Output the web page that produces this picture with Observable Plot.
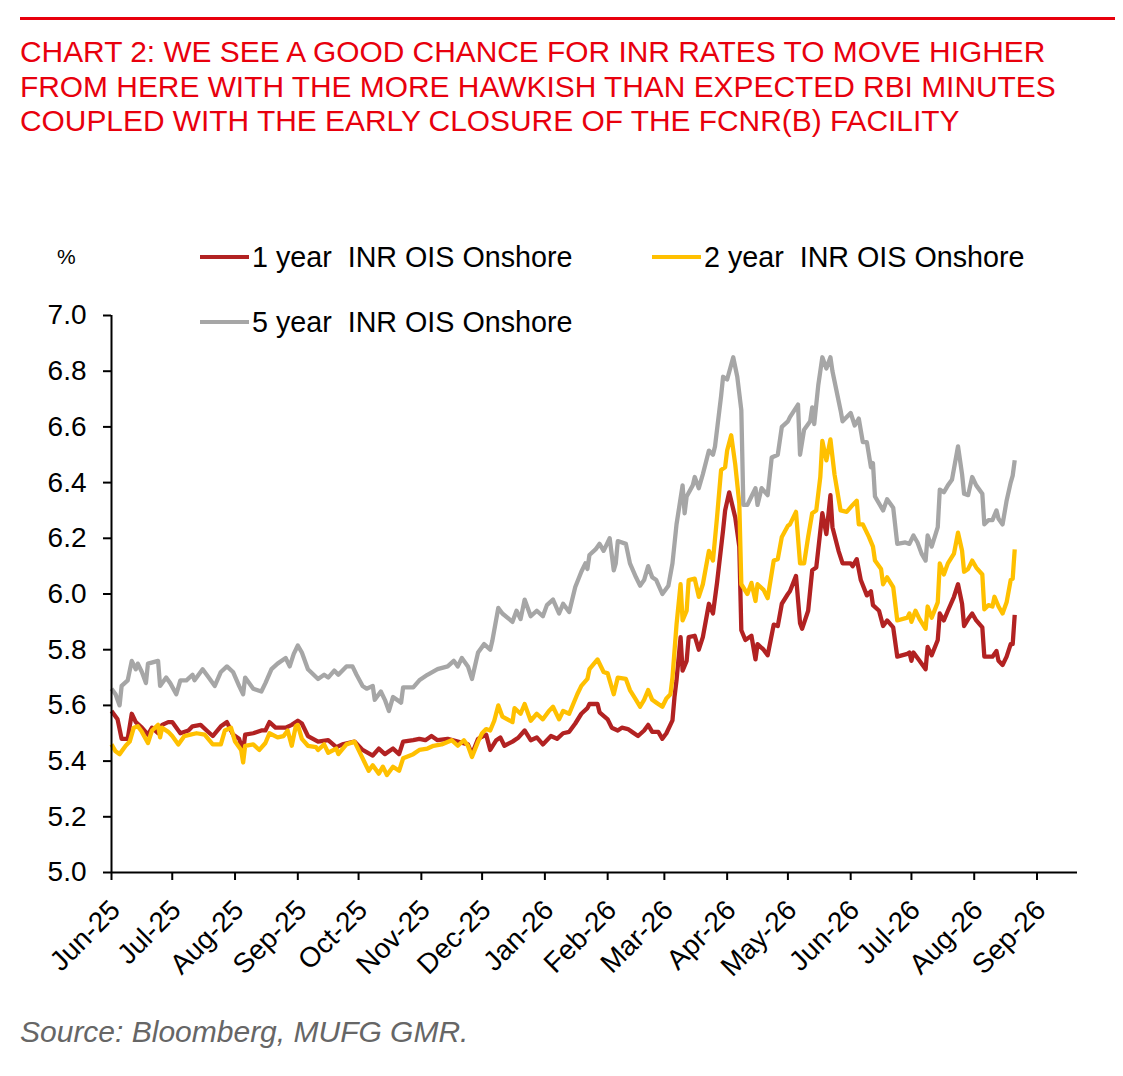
<!DOCTYPE html>
<html>
<head>
<meta charset="utf-8">
<script src="https://cdn.jsdelivr.net/npm/d3@7"></script>
<script src="https://cdn.jsdelivr.net/npm/@observablehq/plot@0.6"></script>
<style>
  html, body { margin: 0; padding: 0; background: #fff; }
  body { width: 1123px; height: 1076px; position: relative; overflow: hidden;
         font-family: "Liberation Sans", Arial, sans-serif; }
  .rule { position: absolute; left: 20px; top: 17px; width: 1095px; height: 3px; background: #e8000d; }
  .title { position: absolute; left: 20px; top: 35px; margin: 0; color: #e8000d;
           font-size: 29.9px; line-height: 34.5px; font-weight: normal; white-space: nowrap; }
  .unit { position: absolute; left: 57px; top: 243px; font-size: 21px; line-height: 28px; color: #000; }
  .leg { position: absolute; font-size: 28.7px; line-height: 30px; color: #000; white-space: pre; display: flex; align-items: center; }
  .sw { display: inline-block; width: 49px; height: 4px; margin-right: 3px; }
  #chart { position: absolute; left: 0; top: 290px; }
  .source { position: absolute; left: 20px; top: 1015px; font-size: 30px; line-height: 34px;
            font-style: italic; color: #666; white-space: nowrap; }
</style>
</head>
<body>
<div class="rule"></div>
<h1 class="title">CHART 2: WE SEE A GOOD CHANCE FOR INR RATES TO MOVE HIGHER<br>FROM HERE WITH THE MORE HAWKISH THAN EXPECTED RBI MINUTES<br>COUPLED WITH THE EARLY CLOSURE OF THE FCNR(B) FACILITY</h1>
<div class="unit">%</div>
<div id="legend"></div>
<div id="chart"></div>
<div class="source">Source: Bloomberg, MUFG GMR.</div>
<script>
// ---------- data ----------
const seriesNames = ["1 year  INR OIS Onshore", "2 year  INR OIS Onshore", "5 year  INR OIS Onshore"];
const seriesColors = ["#b22222", "#ffc000", "#a6a6a6"];

const monthTicks = ["2025-06-01","2025-07-01","2025-08-01","2025-09-01","2025-10-01","2025-11-01","2025-12-01",
  "2026-01-01","2026-02-01","2026-03-01","2026-04-01","2026-05-01","2026-06-01","2026-07-01","2026-08-01","2026-09-01"];
const yTicks = [5.0, 5.2, 5.4, 5.6, 5.8, 6.0, 6.2, 6.4, 6.6, 6.8, 7.0];
const xDomain = ["2025-06-01", "2026-09-21"];
const yDomain = [5.0, 7.0];

// 1 year INR OIS Onshore
const dates1y = [
  "2025-06-01","2025-06-03","2025-06-04","2025-06-06","2025-06-09","2025-06-11","2025-06-13","2025-06-16","2025-06-19","2025-06-21",
  "2025-06-24","2025-06-26","2025-06-29","2025-07-01","2025-07-05","2025-07-09","2025-07-11","2025-07-15","2025-07-18","2025-07-21",
  "2025-07-25","2025-07-28","2025-07-31","2025-08-03","2025-08-05","2025-08-06","2025-08-10","2025-08-14","2025-08-16","2025-08-18",
  "2025-08-21","2025-08-26","2025-08-29","2025-09-01","2025-09-03","2025-09-06","2025-09-11","2025-09-16","2025-09-20","2025-09-23",
  "2025-09-29","2025-10-03","2025-10-08","2025-10-11","2025-10-14","2025-10-18","2025-10-21","2025-10-23","2025-10-28","2025-10-31",
  "2025-11-03","2025-11-06","2025-11-09","2025-11-14","2025-11-19","2025-11-24","2025-11-26","2025-11-29","2025-12-03","2025-12-05",
  "2025-12-08","2025-12-10","2025-12-12","2025-12-16","2025-12-19","2025-12-22","2025-12-25","2025-12-28","2025-12-31","2026-01-04",
  "2026-01-07","2026-01-10","2026-01-13","2026-01-16","2026-01-19","2026-01-22","2026-01-23","2026-01-27","2026-01-28","2026-02-01",
  "2026-02-03","2026-02-06","2026-02-08","2026-02-11","2026-02-13","2026-02-16","2026-02-19","2026-02-21","2026-02-23","2026-02-26",
  "2026-02-28","2026-03-02","2026-03-05","2026-03-06","2026-03-07","2026-03-09","2026-03-10","2026-03-12","2026-03-13","2026-03-16",
  "2026-03-18","2026-03-20","2026-03-23","2026-03-25","2026-03-27","2026-03-30","2026-03-31","2026-04-02","2026-04-05","2026-04-07",
  "2026-04-08","2026-04-10","2026-04-13","2026-04-15","2026-04-16","2026-04-19","2026-04-21","2026-04-24","2026-04-26","2026-04-28",
  "2026-05-01","2026-05-02","2026-05-05","2026-05-07","2026-05-08","2026-05-11","2026-05-13","2026-05-15","2026-05-18","2026-05-20",
  "2026-05-22","2026-05-23","2026-05-26","2026-05-28","2026-06-01","2026-06-02","2026-06-04","2026-06-06","2026-06-09","2026-06-11",
  "2026-06-12","2026-06-15","2026-06-17","2026-06-19","2026-06-22","2026-06-24","2026-06-29","2026-06-30","2026-07-01","2026-07-02",
  "2026-07-05","2026-07-08","2026-07-09","2026-07-11","2026-07-14","2026-07-15","2026-07-17","2026-07-19","2026-07-22","2026-07-24",
  "2026-07-26","2026-07-27","2026-07-29","2026-07-31","2026-08-02","2026-08-05","2026-08-06","2026-08-08","2026-08-10","2026-08-12",
  "2026-08-13","2026-08-15","2026-08-17","2026-08-19","2026-08-20","2026-08-21"];
const ois1y = [
  5.58,5.56,5.55,5.48,5.48,5.57,5.54,5.52,5.495,5.52,
  5.50,5.53,5.54,5.54,5.50,5.51,5.525,5.53,5.51,5.49,
  5.525,5.54,5.495,5.48,5.435,5.495,5.50,5.51,5.51,5.54,
  5.52,5.52,5.53,5.545,5.535,5.49,5.47,5.475,5.45,5.46,
  5.47,5.44,5.42,5.445,5.425,5.445,5.425,5.47,5.475,5.48,
  5.475,5.49,5.475,5.48,5.47,5.46,5.425,5.48,5.495,5.44,
  5.475,5.485,5.455,5.47,5.485,5.51,5.475,5.485,5.46,5.49,
  5.48,5.50,5.505,5.535,5.57,5.59,5.605,5.605,5.575,5.55,
  5.52,5.51,5.52,5.515,5.505,5.49,5.51,5.53,5.505,5.505,
  5.48,5.50,5.546,5.63,5.69,5.845,5.725,5.76,5.845,5.85,
  5.80,5.845,5.965,5.93,6.04,6.23,6.30,6.365,6.275,6.17,
  5.87,5.835,5.85,5.765,5.82,5.80,5.78,5.89,5.885,5.965,
  6.00,6.01,6.065,5.895,5.875,5.94,6.085,6.095,6.29,6.215,
  6.355,6.24,6.155,6.11,6.11,6.10,6.125,6.05,5.995,6.01,
  5.96,5.94,5.885,5.905,5.88,5.775,5.785,5.79,5.76,5.79,
  5.76,5.73,5.81,5.78,5.835,5.93,5.905,5.94,5.99,6.035,
  5.965,5.885,5.91,5.93,5.905,5.88,5.775,5.775,5.775,5.795,
  5.76,5.745,5.775,5.82,5.82,5.925];

// 2 year INR OIS Onshore
const dates2y = [
  "2025-06-01","2025-06-03","2025-06-05","2025-06-08","2025-06-10","2025-06-12","2025-06-14","2025-06-16","2025-06-19","2025-06-21",
  "2025-06-24","2025-06-25","2025-06-26","2025-06-29","2025-07-01","2025-07-04","2025-07-07","2025-07-10","2025-07-13","2025-07-17",
  "2025-07-21","2025-07-25","2025-07-27","2025-07-30","2025-08-01","2025-08-04","2025-08-05","2025-08-06","2025-08-10","2025-08-13",
  "2025-08-16","2025-08-18","2025-08-22","2025-08-25","2025-08-27","2025-08-29","2025-08-31","2025-09-01","2025-09-03","2025-09-06",
  "2025-09-10","2025-09-11","2025-09-14","2025-09-16","2025-09-20","2025-09-21","2025-09-25","2025-09-29","2025-10-02","2025-10-04",
  "2025-10-06","2025-10-08","2025-10-11","2025-10-13","2025-10-15","2025-10-18","2025-10-21","2025-10-23","2025-10-28","2025-10-31",
  "2025-11-04","2025-11-07","2025-11-11","2025-11-16","2025-11-19","2025-11-22","2025-11-24","2025-11-26","2025-11-29","2025-12-01",
  "2025-12-03","2025-12-05","2025-12-07","2025-12-09","2025-12-11","2025-12-16","2025-12-17","2025-12-20","2025-12-22","2025-12-25",
  "2025-12-28","2025-12-31","2026-01-03","2026-01-05","2026-01-08","2026-01-10","2026-01-13","2026-01-15","2026-01-17","2026-01-19",
  "2026-01-22","2026-01-23","2026-01-27","2026-01-30","2026-02-01","2026-02-02","2026-02-04","2026-02-06","2026-02-10","2026-02-12",
  "2026-02-15","2026-02-17","2026-02-19","2026-02-21","2026-02-23","2026-02-25","2026-02-28","2026-03-02","2026-03-04","2026-03-05",
  "2026-03-07","2026-03-09","2026-03-10","2026-03-12","2026-03-13","2026-03-16","2026-03-18","2026-03-20","2026-03-23","2026-03-25",
  "2026-03-27","2026-03-29","2026-03-31","2026-04-01","2026-04-03","2026-04-05","2026-04-07","2026-04-08","2026-04-11","2026-04-13",
  "2026-04-15","2026-04-16","2026-04-19","2026-04-21","2026-04-24","2026-04-26","2026-04-28","2026-05-01","2026-05-02","2026-05-05",
  "2026-05-07","2026-05-09","2026-05-11","2026-05-13","2026-05-15","2026-05-17","2026-05-18","2026-05-20","2026-05-22","2026-05-24",
  "2026-05-27","2026-05-30","2026-06-02","2026-06-04","2026-06-05","2026-06-07","2026-06-10","2026-06-12","2026-06-13","2026-06-16",
  "2026-06-17","2026-06-19","2026-06-22","2026-06-24","2026-06-29","2026-06-30","2026-07-01","2026-07-03","2026-07-05","2026-07-08",
  "2026-07-09","2026-07-11","2026-07-14","2026-07-15","2026-07-17","2026-07-19","2026-07-22","2026-07-24","2026-07-26","2026-07-27",
  "2026-07-29","2026-07-31","2026-08-02","2026-08-05","2026-08-06","2026-08-08","2026-08-10","2026-08-11","2026-08-13","2026-08-15",
  "2026-08-17","2026-08-19","2026-08-20","2026-08-21"];
const ois2y = [
  5.46,5.435,5.425,5.455,5.47,5.52,5.525,5.505,5.465,5.51,
  5.53,5.485,5.52,5.505,5.49,5.46,5.49,5.495,5.50,5.495,
  5.46,5.46,5.51,5.52,5.47,5.44,5.395,5.455,5.46,5.44,
  5.465,5.50,5.485,5.49,5.51,5.455,5.525,5.53,5.48,5.455,
  5.45,5.44,5.46,5.43,5.445,5.425,5.46,5.47,5.425,5.395,
  5.365,5.385,5.355,5.38,5.35,5.38,5.365,5.41,5.425,5.44,
  5.445,5.455,5.46,5.475,5.455,5.475,5.455,5.415,5.47,5.50,
  5.515,5.51,5.545,5.60,5.56,5.54,5.59,5.57,5.605,5.545,
  5.57,5.55,5.58,5.595,5.55,5.58,5.57,5.605,5.64,5.67,
  5.695,5.73,5.765,5.72,5.715,5.69,5.64,5.70,5.695,5.655,
  5.62,5.595,5.62,5.655,5.62,5.61,5.595,5.625,5.64,5.70,
  5.89,6.035,5.905,5.94,6.05,6.055,5.99,6.035,6.155,6.12,
  6.275,6.445,6.455,6.515,6.57,6.465,6.325,6.035,6.00,6.04,
  5.975,6.035,6.015,5.985,6.12,6.125,6.205,6.245,6.25,6.295,
  6.11,6.11,6.205,6.29,6.30,6.42,6.55,6.48,6.555,6.43,
  6.30,6.295,6.32,6.335,6.25,6.25,6.205,6.17,6.12,6.09,
  6.035,6.06,6.025,5.905,5.915,5.93,5.90,5.94,5.91,5.875,
  5.955,5.915,5.97,6.11,6.07,6.11,6.145,6.22,6.155,6.08,
  6.09,6.12,6.095,6.07,5.945,5.96,5.955,5.99,5.955,5.93,
  5.97,6.05,6.055,6.16];

// 5 year INR OIS Onshore
const dates5y = [
  "2025-06-01","2025-06-03","2025-06-05","2025-06-06","2025-06-09","2025-06-11","2025-06-13","2025-06-14","2025-06-16","2025-06-18",
  "2025-06-19","2025-06-24","2025-06-25","2025-06-28","2025-06-30","2025-07-03","2025-07-05","2025-07-08","2025-07-11","2025-07-12",
  "2025-07-16","2025-07-19","2025-07-22","2025-07-25","2025-07-28","2025-07-31","2025-08-03","2025-08-05","2025-08-06","2025-08-10",
  "2025-08-14","2025-08-16","2025-08-19","2025-08-22","2025-08-26","2025-08-28","2025-08-30","2025-09-01","2025-09-03","2025-09-06",
  "2025-09-11","2025-09-14","2025-09-16","2025-09-19","2025-09-21","2025-09-25","2025-09-28","2025-09-30","2025-10-03","2025-10-05",
  "2025-10-08","2025-10-09","2025-10-12","2025-10-14","2025-10-16","2025-10-18","2025-10-22","2025-10-23","2025-10-28","2025-10-31",
  "2025-11-04","2025-11-09","2025-11-14","2025-11-17","2025-11-19","2025-11-21","2025-11-24","2025-11-26","2025-11-29","2025-12-02",
  "2025-12-05","2025-12-06","2025-12-09","2025-12-11","2025-12-16","2025-12-18","2025-12-20","2025-12-22","2025-12-25","2025-12-28",
  "2025-12-31","2026-01-02","2026-01-05","2026-01-08","2026-01-10","2026-01-13","2026-01-16","2026-01-19","2026-01-21","2026-01-22",
  "2026-01-23","2026-01-26","2026-01-28","2026-01-30","2026-02-02","2026-02-04","2026-02-05","2026-02-06","2026-02-10","2026-02-12",
  "2026-02-15","2026-02-17","2026-02-19","2026-02-21","2026-02-23","2026-02-25","2026-02-28","2026-03-03","2026-03-05","2026-03-07",
  "2026-03-10","2026-03-11","2026-03-12","2026-03-15","2026-03-16","2026-03-18","2026-03-20","2026-03-23","2026-03-25","2026-03-26",
  "2026-03-29","2026-03-30","2026-04-01","2026-04-04","2026-04-06","2026-04-08","2026-04-09","2026-04-11","2026-04-13","2026-04-15",
  "2026-04-16","2026-04-18","2026-04-21","2026-04-23","2026-04-26","2026-04-28","2026-05-01","2026-05-02","2026-05-06","2026-05-07",
  "2026-05-09","2026-05-12","2026-05-13","2026-05-14","2026-05-16","2026-05-18","2026-05-20","2026-05-22","2026-05-23","2026-05-27",
  "2026-05-28","2026-06-01","2026-06-03","2026-06-05","2026-06-07","2026-06-09","2026-06-11","2026-06-12","2026-06-13","2026-06-17",
  "2026-06-19","2026-06-22","2026-06-24","2026-06-28","2026-06-30","2026-07-02","2026-07-04","2026-07-06","2026-07-08","2026-07-09",
  "2026-07-11","2026-07-14","2026-07-15","2026-07-17","2026-07-19","2026-07-21","2026-07-24","2026-07-26","2026-07-27","2026-07-29",
  "2026-07-31","2026-08-02","2026-08-05","2026-08-06","2026-08-08","2026-08-10","2026-08-12","2026-08-13","2026-08-15","2026-08-17",
  "2026-08-19","2026-08-20","2026-08-21"];
const ois5y = [
  5.66,5.64,5.60,5.67,5.69,5.76,5.73,5.75,5.72,5.68,
  5.75,5.76,5.67,5.70,5.68,5.64,5.69,5.69,5.71,5.69,
  5.73,5.70,5.67,5.72,5.74,5.72,5.67,5.64,5.70,5.66,
  5.65,5.68,5.73,5.75,5.77,5.74,5.785,5.815,5.79,5.73,
  5.695,5.71,5.70,5.725,5.71,5.74,5.74,5.71,5.67,5.66,
  5.67,5.62,5.65,5.62,5.58,5.63,5.61,5.665,5.665,5.69,
  5.71,5.73,5.74,5.76,5.74,5.77,5.74,5.695,5.79,5.82,
  5.80,5.83,5.95,5.93,5.90,5.94,5.91,5.98,5.92,5.94,
  5.92,5.96,5.98,5.93,5.965,5.935,6.025,6.08,6.11,6.09,
  6.14,6.16,6.18,6.155,6.20,6.085,6.11,6.19,6.18,6.11,
  6.06,6.03,6.05,6.10,6.06,6.05,6.00,6.03,6.11,6.25,
  6.39,6.29,6.35,6.39,6.42,6.38,6.43,6.515,6.50,6.53,
  6.71,6.78,6.77,6.85,6.78,6.66,6.32,6.32,6.35,6.38,
  6.32,6.38,6.355,6.49,6.50,6.60,6.62,6.635,6.68,6.50,
  6.59,6.62,6.67,6.61,6.75,6.85,6.81,6.85,6.80,6.66,
  6.62,6.65,6.605,6.63,6.545,6.545,6.455,6.47,6.35,6.30,
  6.34,6.31,6.18,6.185,6.18,6.21,6.185,6.145,6.12,6.21,
  6.17,6.24,6.375,6.365,6.39,6.41,6.53,6.43,6.36,6.355,
  6.42,6.39,6.36,6.25,6.265,6.265,6.30,6.27,6.25,6.335,
  6.40,6.425,6.48];

// ---------- build ----------
const allDates = [dates1y, dates2y, dates5y];
const allValues = [ois1y, ois2y, ois5y];
const rows = [];
seriesNames.forEach((name, k) => {
  allDates[k].forEach((d, i) => rows.push({ date: new Date(d), value: allValues[k][i], series: name }));
});

// legend (HTML)
const legendPos = [[200, 242], [652, 242], [200, 307]];
const legend = document.getElementById("legend");
seriesNames.forEach((name, k) => {
  const el = document.createElement("div");
  el.className = "leg";
  el.style.left = legendPos[k][0] + "px";
  el.style.top = legendPos[k][1] + "px";
  const sw = document.createElement("span");
  sw.className = "sw";
  sw.style.background = seriesColors[k];
  el.appendChild(sw);
  el.appendChild(document.createTextNode(name));
  legend.appendChild(el);
});

const x0 = new Date(xDomain[0]);
const fmt = d3.utcFormat("%b-%y");
const tickDates = monthTicks.map(d => new Date(d));

const chart = Plot.plot({
  width: 1123,
  height: 700,
  marginLeft: 111,
  marginRight: 46,
  marginTop: 25,
  marginBottom: 118,
  style: { fontFamily: '"Liberation Sans", Arial, sans-serif', fontSize: "27px", color: "#000", background: "transparent", overflow: "visible" },
  x: { type: "utc", domain: xDomain.map(d => new Date(d)) },
  y: { domain: yDomain },
  color: { domain: seriesNames, range: seriesColors },
  marks: [
    Plot.axisY({ ticks: yTicks, tickFormat: d => d.toFixed(1), tickSize: 8, tickPadding: 17, strokeWidth: 2, label: null, fontSize: 28 }),
    // x tick marks
    Plot.axisX({ ticks: tickDates, tickFormat: () => "", tickSize: 8, strokeWidth: 2, label: null }),
    // x tick labels (rotated)
    Plot.axisX({ ticks: tickDates, tickFormat: fmt, tickSize: 0, tickPadding: 33, tickRotate: -45, dx: 4, label: null, fontSize: 28 }),
    Plot.lineY(rows, { x: "date", y: "value", z: "series", stroke: "series", strokeWidth: 4.3, strokeLinejoin: "round", strokeLinecap: "butt" }),
    Plot.ruleY([yDomain[0]], { stroke: "#000", strokeWidth: 2 }),
    Plot.ruleX([x0], { stroke: "#000", strokeWidth: 2 })
  ]
});
document.getElementById("chart").appendChild(chart);
</script>
</body>
</html>
